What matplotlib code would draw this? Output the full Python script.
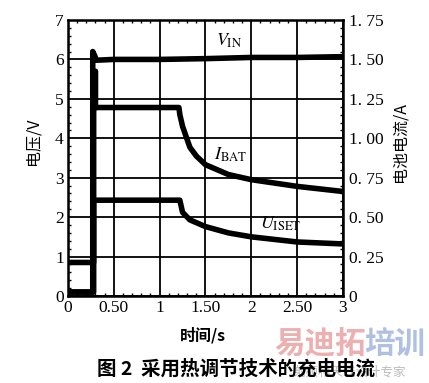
import matplotlib.pyplot as plt
from matplotlib.ticker import MultipleLocator

plt.rcParams['font.family'] = ['Liberation Serif', 'Noto Sans CJK SC']
plt.rcParams['mathtext.fontset'] = 'stix'

# traces (time in s, level in V)
t_vin = [0, 0.27, 0.27, 0.29, 0.31, 0.5, 1.0, 1.5, 2.0, 2.5, 3.0]
v_vin = [0.1, 0.1, 6.2, 6.1, 5.98, 6.0, 6.0, 6.02, 6.05, 6.05, 6.07]

t_ibat = [0, 0.28, 0.28, 0.30, 0.30, 0.5, 1.0, 1.21, 1.22, 1.25, 1.33, 1.4, 1.5, 1.75, 2.0, 2.5, 3.0]
v_ibat = [0.1, 0.1, 5.7, 5.7, 4.78, 4.78, 4.78, 4.78, 4.6, 4.3, 3.77, 3.55, 3.33, 3.08, 2.95, 2.78, 2.65]

t_iset = [0, 0.28, 0.28, 0.5, 1.0, 1.22, 1.25, 1.33, 1.5, 1.75, 2.0, 2.5, 3.0]
v_iset = [0.85, 0.85, 2.43, 2.43, 2.43, 2.43, 2.12, 1.93, 1.76, 1.6, 1.5, 1.37, 1.32]

x_ticks = [0, 0.5, 1, 1.5, 2, 2.5, 3]
x_labels = ['0', '0.50', '1', '1.50', '2', '2.50', '3']
v_ticks = [0, 1, 2, 3, 4, 5, 6, 7]
i_ticks = [0, 0.25, 0.5, 0.75, 1.0, 1.25, 1.5, 1.75]
i_labels = ['0', '0. 25', '0. 50', '0. 75', '1. 00', '1. 25', '1. 50', '1. 75']

fig = plt.figure(figsize=(4.29, 3.83), dpi=100)
ax = fig.add_axes([0.1585, 0.2272, 0.641, 0.7206])

ax.grid(True, color='black', linewidth=1.3)
ax.set_axisbelow(True)

ax.plot(t_vin, v_vin, color='black', linewidth=4, solid_joinstyle='round')
ax.plot(t_ibat, v_ibat, color='black', linewidth=4, solid_joinstyle='round')
ax.plot(t_iset, v_iset, color='black', linewidth=4, solid_joinstyle='round')

ax.set_xlim(0, 3)
ax.set_ylim(0, 7)
ax.set_xticks(x_ticks)
ax.set_xticklabels(x_labels)
ax.set_yticks(v_ticks)
ax.xaxis.set_minor_locator(MultipleLocator(0.1))
ax.yaxis.set_minor_locator(MultipleLocator(0.2))
ax.tick_params(which='both', direction='in', top=True, labelsize=12.5, pad=3)
ax.tick_params(which='major', length=0)
ax.tick_params(which='minor', length=2.5, width=1)
for s in ax.spines.values():
    s.set_linewidth(1.8)

ax2 = ax.twinx()
ax2.set_ylim(0, 1.75)
ax2.set_yticks(i_ticks)
ax2.set_yticklabels(i_labels)
ax2.yaxis.set_minor_locator(MultipleLocator(0.05))
ax2.tick_params(which='both', direction='in', labelsize=12.5, pad=4)
ax2.tick_params(which='major', length=0)
ax2.tick_params(which='minor', length=2.5, width=1)

ax.text(1.62, 6.35, r'$V_{\mathrm{IN}}$', fontsize=13)
ax.text(1.59, 3.45, r'$I_{\mathrm{BAT}}$', fontsize=13)
ax.text(2.1, 1.7, r'$U_{\mathrm{ISET}}$', fontsize=13)

fig.text(0.077, 0.63, '电压/V', rotation=90, ha='center', va='center',
         fontsize=11.5, family=['Noto Sans CJK SC'])
fig.text(0.932, 0.63, '电池电流/A', rotation=90, ha='center', va='center',
         fontsize=11.5, family=['Noto Sans CJK SC'])
fig.text(0.474, 0.125, '时间/s', ha='center', va='center',
         fontsize=11.5, family=['Noto Sans CJK SC'], weight='bold')

# watermark in the lower right corner, drawn under the caption
fig.text(0.746, 0.1, '易迪拓', ha='center', va='center', fontsize=22,
         family=['Noto Sans CJK SC'], weight='bold', color='#eaa2a2', alpha=0.85)
fig.text(0.92, 0.1, '培训', ha='center', va='center', fontsize=22,
         family=['Noto Sans CJK SC'], weight='bold', color='#a3b5de', alpha=0.85)
fig.text(0.815, 0.028, '射频和天线设计专家', ha='center', va='center', fontsize=9,
         family=['Noto Sans CJK SC'], color='#aaaaaa', alpha=0.8)

fig.text(0.55, 0.036, '图 2  采用热调节技术的充电电流', ha='center', va='center',
         fontsize=14, family=['Noto Sans CJK SC'], weight='bold')

fig.savefig('out.png', dpi=100)
